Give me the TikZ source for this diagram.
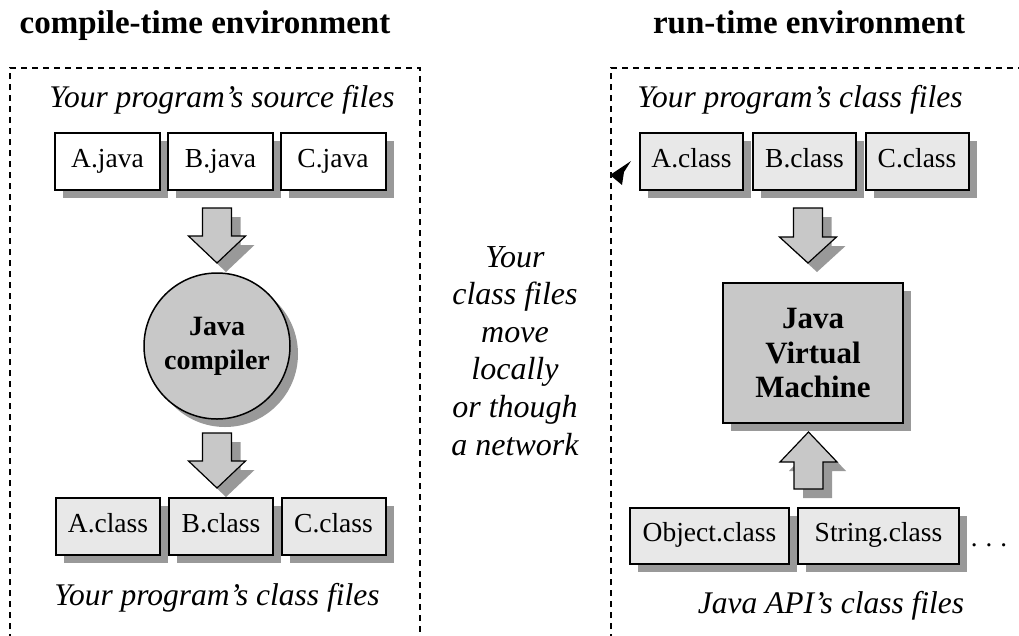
\documentclass[tikz,border=0pt]{standalone}
\usepackage{fontspec}
\setmainfont{Liberation Serif}
\usetikzlibrary{shadows}
\definecolor{shgray}{HTML}{999999}
\definecolor{boxgray}{HTML}{E8E8E8}
\definecolor{midgray}{HTML}{C8C8C8}
\newcommand{\blkarrow}[4]{%
  \fill[shgray,shift={(9,9)}] ({#1-14.5},#2) -- ({#1+14.5},#2) -- ({#1+14.5},#3) -- ({#1+28.5},#3) -- (#1,#4) -- ({#1-28.5},#3) -- ({#1-14.5},#3) -- cycle;
  \draw[blkarr] ({#1-14.5},#2) -- ({#1+14.5},#2) -- ({#1+14.5},#3) -- ({#1+28.5},#3) -- (#1,#4) -- ({#1-28.5},#3) -- ({#1-14.5},#3) -- cycle;}
\begin{document}
\begin{tikzpicture}[x=1pt,y=-1pt,
  sh/.style={drop shadow={shadow xshift=8pt,shadow yshift=-8pt,fill=shgray,opacity=1}},
  file/.style={draw,line width=2pt,minimum height=57pt,inner sep=0pt,text height=18pt,text depth=7pt,font=\fontsize{27.5}{30}\selectfont,sh},
  srcfile/.style={file,fill=white,minimum width=105pt},
  clsfile/.style={file,fill=boxgray,minimum width=104pt},
  apifile/.style={file,fill=boxgray},
  title/.style={font=\fontsize{33}{36}\selectfont\bfseries,anchor=base},
  caption/.style={font=\fontsize{31.5}{36}\selectfont\itshape,anchor=base},
  env/.style={line width=1.5pt,dash pattern=on 6pt off 5pt},
  blkarr/.style={draw,line width=1.2pt,fill=midgray,line join=miter},
  engine/.style={draw,fill=midgray,line width=2pt,align=center,font=\fontsize{28}{34}\selectfont\bfseries,sh}
]
\useasboundingbox (0,0) rectangle (1019,635);
% environments
\draw[env] (10,640) -- (10,68) -- (420,68) -- (420,640);
\draw[env] (611,640) -- (611,68) -- (1025,68);
\node[title] (tl) at (205,33) {compile-time environment};
\node[title] (tr) at (809,33) {run-time environment};
% compile-time
\node[caption] (cap1) at (222,107) {Your program’s source files};
\node[srcfile] (aj) at (107.5,161.5) {A.java};
\node[srcfile] (bj) at (220.5,161.5) {B.java};
\node[srcfile] (cj) at (333,161.5) {C.java};
\blkarrow{217}{208}{236}{263}
\node[engine,circle,minimum size=146pt,line width=1.5pt] (comp) at (217,346) {Java\\compiler};
\blkarrow{217}{433}{461}{488}
\node[clsfile] (ac1) at (108,526.5) {A.class};
\node[clsfile] (bc1) at (221,526.5) {B.class};
\node[clsfile] (cc1) at (333.5,526.5) {C.class};
\node[caption] (cap2) at (217,605) {Your program’s class files};
% middle
\node[caption,align=center,font=\fontsize{32}{37.6}\selectfont\itshape] (mid) at (515,455) {Your\\class files\\move\\locally\\or though\\a network};
% run-time
\node[caption] (cap3) at (800,107) {Your program’s class files};
\node[clsfile,minimum width=103pt] (ac2) at (691.5,161.5) {A.class};
\node[clsfile,minimum width=103pt] (bc2) at (804.5,161.5) {B.class};
\node[clsfile,minimum width=103pt] (cc2) at (917,161.5) {C.class};
\fill (610,175) -- (631,161) -- (624,172) -- (622,185) -- cycle;
\blkarrow{808}{208}{237}{263}
\node[engine,rectangle,minimum width=180pt,minimum height=140pt,font=\fontsize{31}{34.5}\selectfont\bfseries] (jvm) at (813,353) {Java\\Virtual\\Machine};
\blkarrow{808.5}{489}{462}{432}
\node[apifile,minimum width=159pt,minimum height=56pt] (obj) at (709.5,536) {Object.class};
\node[apifile,minimum width=161pt,minimum height=56pt] (str) at (878.5,536) {String.class};
\node[font=\fontsize{27}{30}\selectfont,anchor=base] (dots) at (989,546) {.\hspace{0.3em}.\hspace{0.3em}.};
\node[caption] (cap4) at (831,613) {Java API’s class files};
\end{tikzpicture}
\end{document}
